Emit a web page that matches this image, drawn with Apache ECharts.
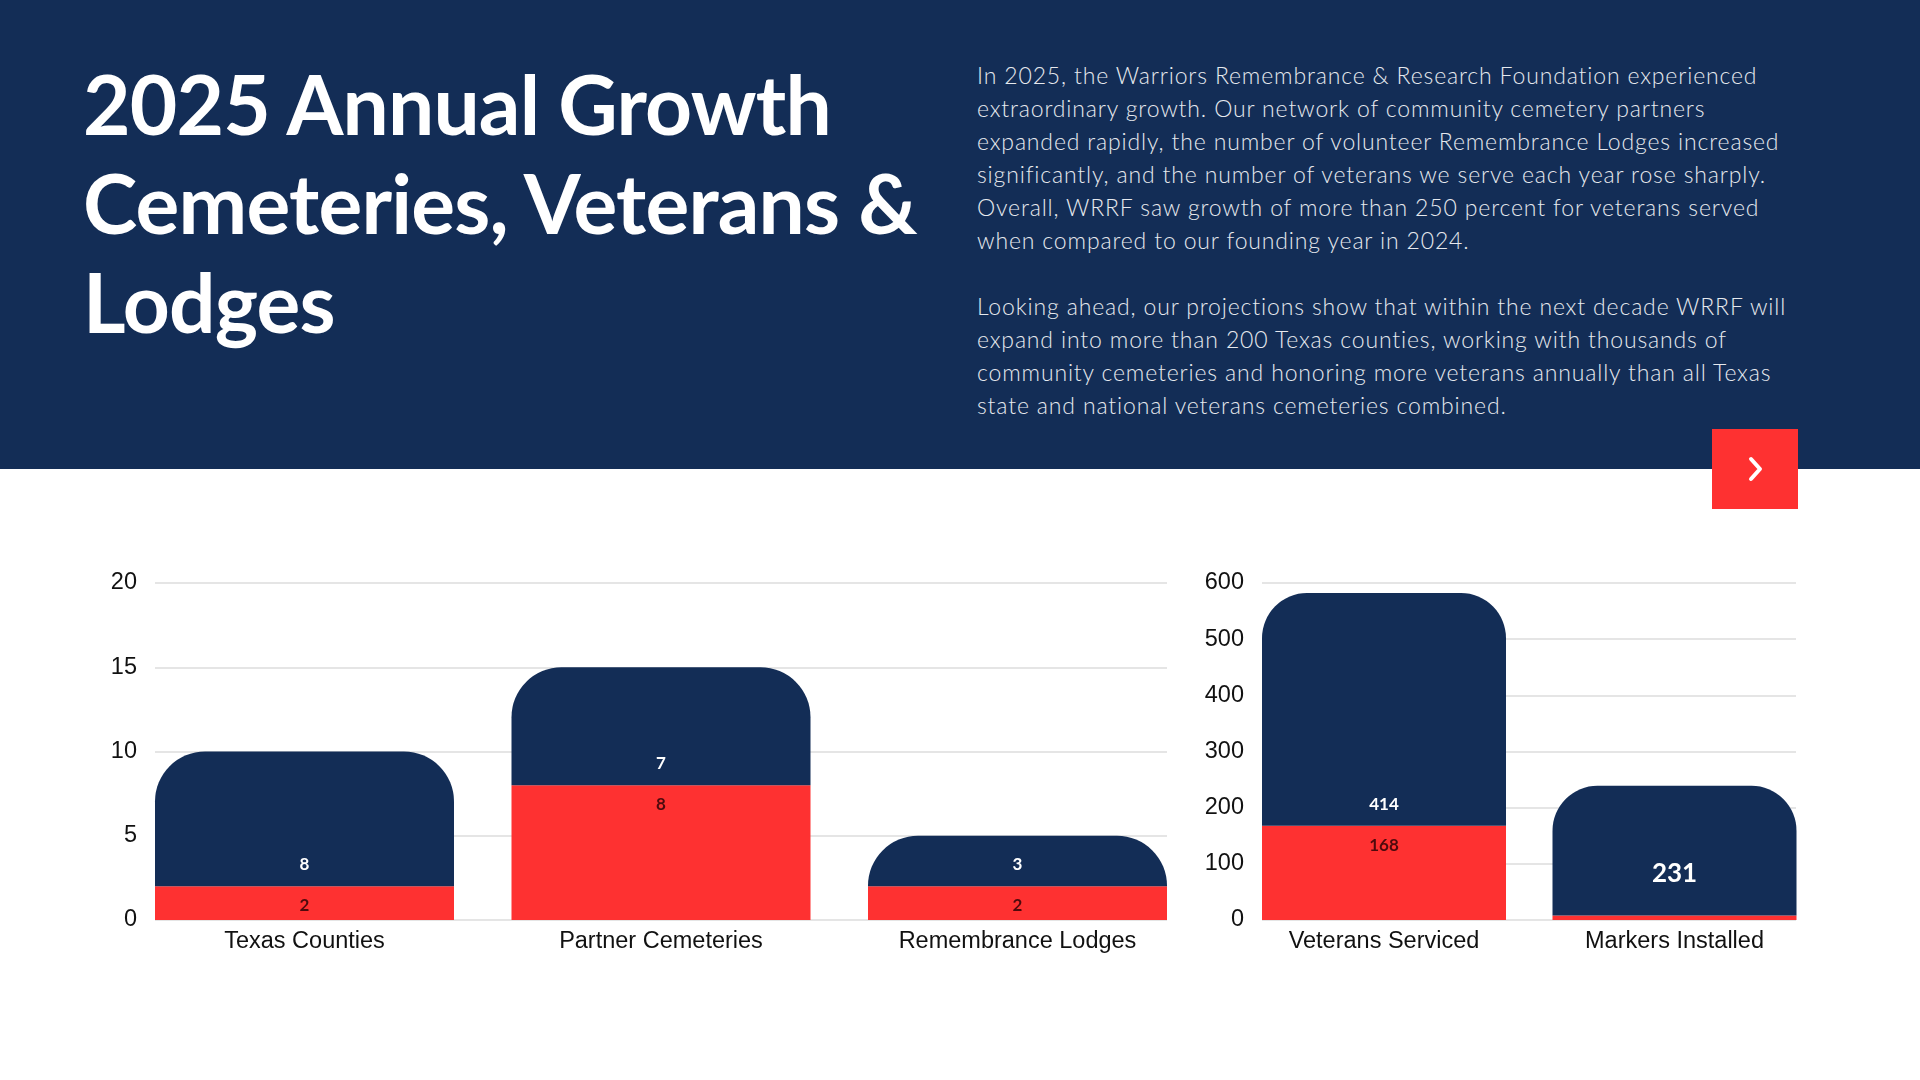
<!DOCTYPE html>
<html>
<head>
<meta charset="utf-8">
<script src="https://cdn.jsdelivr.net/npm/echarts@6/dist/echarts.min.js"></script>
<style>
  html, body { margin: 0; padding: 0; background: #fff; }
  #page { position: relative; width: 1920px; height: 1080px; overflow: hidden; }
  #band { position: absolute; left: 0; top: 0; width: 1920px; height: 469px; background: #132d56; }
  #title {
    position: absolute; left: 83px; top: 54px; margin: 0;
    font-family: Lato, sans-serif; font-weight: 700; font-size: 82px; line-height: 99px;
    color: #fff; white-space: nowrap; letter-spacing: -0.8px;
  }
  #blurb {
    position: absolute; left: 977px; top: 59px; margin: 0;
    font-family: Lato, sans-serif; font-weight: 300; font-size: 23px; line-height: 33px;
    color: #e6e9ee; white-space: nowrap; letter-spacing: 0.85px;
  }
  #next {
    position: absolute; left: 1712px; top: 429px; width: 86px; height: 80px;
    background: #fe3131;
  }
  #chart { position: absolute; left: 0; top: 0; width: 1920px; height: 1080px; }
</style>
</head>
<body>
<div id="page">
  <div id="band"></div>
  <h1 id="title">2025 Annual Growth<br>Cemeteries, Veterans &amp;<br>Lodges</h1>
  <p id="blurb">In 2025, the Warriors Remembrance &amp; Research Foundation experienced<br>extraordinary growth. Our network of community cemetery partners<br>expanded rapidly, the number of volunteer Remembrance Lodges increased<br>significantly, and the number of veterans we serve each year rose sharply.<br>Overall, WRRF saw growth of more than 250 percent for veterans served<br>when compared to our founding year in 2024.<br><br>Looking ahead, our projections show that within the next decade WRRF will<br>expand into more than 200 Texas counties, working with thousands of<br>community cemeteries and honoring more veterans annually than all Texas<br>state and national veterans cemeteries combined.</p>
  <div id="chart"></div>
  <div id="next">
    <svg width="86" height="80" viewBox="0 0 86 80">
      <polyline points="39,30 48,40 39,50" fill="none" stroke="#fff" stroke-width="4" stroke-linecap="round" stroke-linejoin="round"/>
    </svg>
  </div>
</div>
<script>
  // left chart: counts
  const leftCategories = ["Texas Counties", "Partner Cemeteries", "Remembrance Lodges"];
  const leftBase = [2, 8, 2];
  const leftGrowth = [8, 7, 3];
  const leftTicks = { min: 0, max: 20, interval: 5 };

  // right chart: veterans / markers
  const rightCategories = ["Veterans Serviced", "Markers Installed"];
  const rightBase = [168, 8];
  const rightGrowth = [414, 231];
  const rightTicks = { min: 0, max: 600, interval: 100 };

  const navy = "#132d56";
  const red = "#fe3131";
  const gridColor = "#dcdcdc";
  const axisFont = { fontFamily: "Liberation Sans, Arial, sans-serif", fontSize: 23.5, color: "#111" };

  const chart = echarts.init(document.getElementById("chart"));

  const plotTop = 583, plotHeight = 337;

  function valueAxis(gridIndex, ticks, showLabels) {
    return {
      type: "value", gridIndex, min: ticks.min, max: ticks.max, interval: ticks.interval,
      show: true,
      axisLine: { show: false }, axisTick: { show: false },
      axisLabel: showLabels ? Object.assign({ margin: 18, padding: [3, 0, 0, 0] }, axisFont) : { show: false },
      splitLine: showLabels ? { show: true, lineStyle: { color: gridColor, width: 1.5 } } : { show: false },
    };
  }

  const smallLabel = { fontFamily: "Lato, sans-serif", fontWeight: "bold", fontSize: 17 };

  function baseSeries(values, xi, name, hideBelow) {
    return {
      type: "bar", name, xAxisIndex: xi, yAxisIndex: xi, stack: name,
      data: values.map(v => v < hideBelow ? { value: v, label: { show: false } } : v),
      itemStyle: { color: red },
      label: Object.assign({ show: true, position: "insideTop", distance: 11, color: "#4e0a0d" }, smallLabel),
    };
  }

  function growthSeries(values, xi, name, radius, bigIndex) {
    return {
      type: "bar", name, xAxisIndex: xi, yAxisIndex: xi, stack: name,
      data: values.map((v, i) => i === bigIndex
        ? { value: v, label: { fontSize: 26, distance: 29 } } : v),
      itemStyle: { color: navy, borderRadius: [radius, radius, 0, 0] },
      label: Object.assign({ show: true, position: "insideBottom", distance: 13, color: "#fff" }, smallLabel),
    };
  }

  const option = {
    animation: false,
    grid: [
      // bars
      { left: 126.25, top: plotTop, width: 1069.5, height: plotHeight },
      { left: 1238.75, top: plotTop, width: 581, height: plotHeight },
      // gridlines + tick labels
      { left: 155, top: plotTop, width: 1012, height: plotHeight },
      { left: 1262, top: plotTop, width: 534, height: plotHeight },
    ],
    xAxis: [
      { type: "category", gridIndex: 0, data: leftCategories,
        axisLine: { show: false }, axisTick: { show: false },
        axisLabel: Object.assign({ margin: 10 }, axisFont) },
      { type: "category", gridIndex: 1, data: rightCategories,
        axisLine: { show: false }, axisTick: { show: false },
        axisLabel: Object.assign({ margin: 10 }, axisFont) },
      { type: "value", gridIndex: 2, show: false },
      { type: "value", gridIndex: 3, show: false },
    ],
    yAxis: [
      valueAxis(0, leftTicks, false),
      valueAxis(1, rightTicks, false),
      valueAxis(2, leftTicks, true),
      valueAxis(3, rightTicks, true),
    ],
    series: [
      Object.assign(baseSeries(leftBase, 0, "left", 0), { barWidth: 299 }),
      Object.assign(growthSeries(leftGrowth, 0, "left", 50, -1), { barWidth: 299 }),
      Object.assign(baseSeries(rightBase, 1, "right", 30), { barWidth: 244 }),
      Object.assign(growthSeries(rightGrowth, 1, "right", 45, 1), { barWidth: 244 }),
    ],
  };
  chart.setOption(option);
</script>
</body>
</html>
